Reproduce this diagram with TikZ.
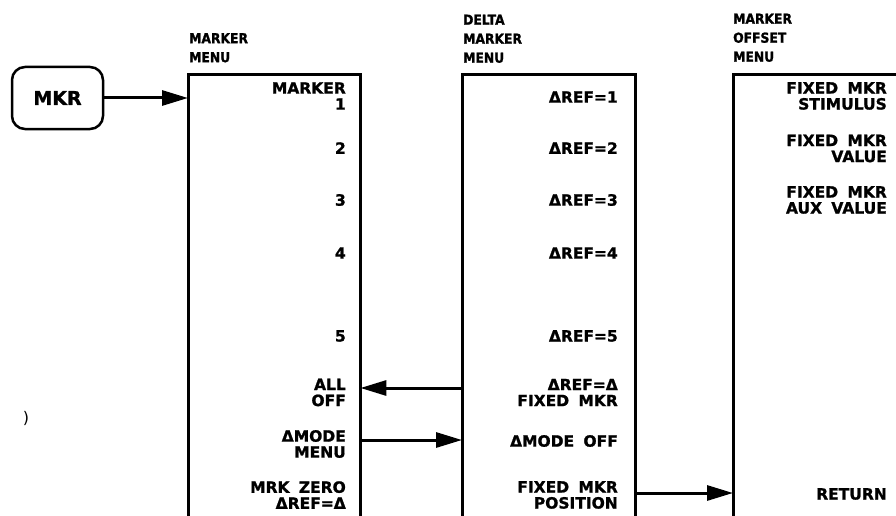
\documentclass[tikz,border=0pt]{standalone}
\usepackage{fontspec}
\setmainfont{DejaVu Sans}
\newfontfamily\hpfont{DejaVu Sans Bold}[FakeBold=1.2]
\newfontfamily\titlefont{DejaVu Sans Bold}[FakeStretch=0.9,FakeBold=1.5]
\usetikzlibrary{arrows.meta}
\newcommand\wgap{\hspace{0.6em}}
\begin{document}
\begin{tikzpicture}[x=1pt,y=-1pt,
  menutxt/.style={font=\hpfont\fontsize{15.5}{16}\selectfont, inner sep=0pt, anchor=east, align=right},
  ttl/.style={font=\titlefont\fontsize{13.7}{19}\selectfont, inner sep=0pt, anchor=north west, align=left},
  frame/.style={line width=3pt},
  conn/.style={line width=3pt, -{Triangle[length=26pt,width=15pt]}},
  menubox/.style={minimum width=#1, minimum height=450pt, inner sep=0pt, anchor=north west},
]
\useasboundingbox (0,0) rectangle (896,516);
\clip (0,0) rectangle (896,516);

% key
\node[draw, line width=2.5pt, rounded corners=13pt, minimum width=91pt, minimum height=62pt,
      font=\hpfont\fontsize{19}{20}\selectfont] (mkr) at (57.5,98) {MKR};

% menu frames (open at the bottom)
\node[menubox=172pt] (mm) at (188,75) {};
\node[menubox=173pt] (dm) at (462,75) {};
\node[menubox=200pt] (om) at (733,75) {};
\draw[frame] (mm.south west) -- (mm.north west) -- (mm.north east) -- (mm.south east);
\draw[frame] (dm.south west) -- (dm.north west) -- (dm.north east) -- (dm.south east);
\draw[frame] (om.south west) -- (om.north west) -- (om.north east);

% titles
\node[ttl] (tm) at (189,33) {MARKER\\MENU};
\node[ttl] (td) at (463,14.5) {DELTA\\MARKER\\MENU};
\node[ttl] (to) at (733,13.5) {MARKER\\OFFSET\\MENU};

% marker menu
\node[menutxt] (m1) at (346,96) {MARKER\\1};
\node[menutxt] (m2) at (346,148) {2};
\node[menutxt] (m3) at (346,200) {3};
\node[menutxt] (m4) at (346,253) {4};
\node[menutxt] (m5) at (346,336) {5};
\node[menutxt] (m6) at (346,392.5) {ALL\\OFF};
\node[menutxt] (m7) at (346,444) {ΔMODE\\MENU};
\node[menutxt] (m8) at (346,495) {MRK\wgap ZERO\\ΔREF=Δ};

% delta marker menu
\node[menutxt] (d1) at (618,97) {ΔREF=1};
\node[menutxt] (d2) at (618,148) {ΔREF=2};
\node[menutxt] (d3) at (618,200) {ΔREF=3};
\node[menutxt] (d4) at (618,253) {ΔREF=4};
\node[menutxt] (d5) at (618,336) {ΔREF=5};
\node[menutxt] (d6) at (618,392.5) {ΔREF=Δ\\FIXED\wgap MKR};
\node[menutxt] (d7) at (618,441) {ΔMODE\wgap OFF};
\node[menutxt] (d8) at (618,495) {FIXED\wgap MKR\\POSITION};

% marker offset menu
\node[menutxt] (o1) at (887,96) {FIXED\wgap MKR\\STIMULUS};
\node[menutxt] (o2) at (887,148.5) {FIXED\wgap MKR\\VALUE};
\node[menutxt] (o3) at (887,200) {FIXED\wgap MKR\\AUX\wgap VALUE};
\node[menutxt] (o4) at (887,494) {RETURN};

% connectors
\coordinate (yA) at (0,388);
\coordinate (yB) at (0,440);
\coordinate (yC) at (0,493);
\draw[conn] (mkr.east) -- (mkr.east -| mm.west);
\draw[conn] (dm.west |- yA) -- (mm.east |- yA);
\draw[conn] (mm.east |- yB) -- (dm.west |- yB);
\draw[conn] (dm.east |- yC) -- (om.west |- yC);

% stray mark
\node[font=\fontsize{16}{16}\selectfont, inner sep=0pt] (paren) at (26,418) {)};
\end{tikzpicture}
\end{document}
